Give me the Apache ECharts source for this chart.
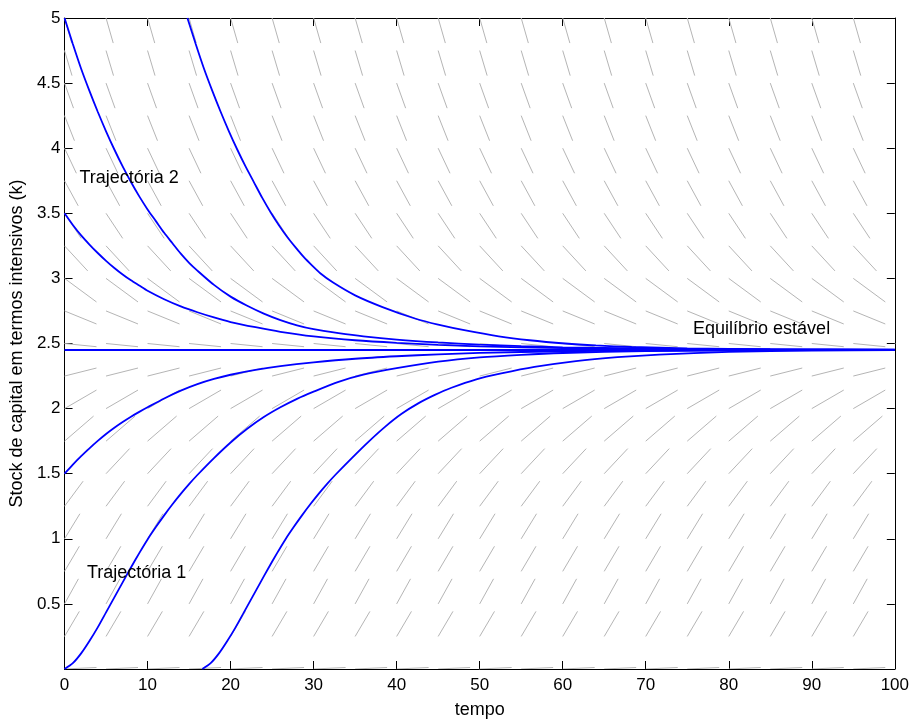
<!DOCTYPE html>
<html>
<head>
<meta charset="utf-8">
<script src="https://cdn.jsdelivr.net/npm/echarts@6/dist/echarts.min.js"></script>
<style>
html,body{margin:0;padding:0;background:#fff;}
#chart{width:912px;height:724px;}
</style>
</head>
<body>
<div id="chart"></div>
<script>
// ---- axis ticks ----
const xTicks = [0,10,20,30,40,50,60,70,80,90,100];
const yTicks = [0.5,1,1.5,2,2.5,3,3.5,4,4.5,5];

// ---- direction field ----
const fieldT = [0,5,10,15,20,25,30,35,40,45,50,55,60,65,70,75,80,85,90,95];
const fieldK = [0,0.25,0.5,0.75,1,1.25,1.5,1.75,2,2.25,2.5,2.75,3,3.25,3.5,3.75,4,4.25,4.5,4.75,5];
const fieldSlope = [0.003,0.108,0.115,0.108,0.104,0.086,0.068,0.055,0.037,0.016,-0.0064,-0.026,-0.047,-0.069,-0.096,-0.117,-0.135,-0.161,-0.178,-0.214,-0.223];

// ---- trajectories [tempo, k] ----
const traj1 = [[0,5.00],[1,4.80],[2,4.61],[3,4.44],[4,4.28],[5,4.13],[6,3.99],[7,3.86],[8,3.74],[9,3.63],[10,3.53],[11,3.44],[12,3.35],[13,3.27],[14,3.19],[15,3.12],[16,3.06],[18,2.95],[20,2.86],[22,2.79],[24,2.73],[26,2.68],[28,2.64],[30,2.61],[33,2.58],[36,2.555],[40,2.53],[45,2.508],[50,2.492],[55,2.48],[60,2.471],[70,2.461],[80,2.456],[90,2.453],[100,2.452]];
const traj2 = [[14.8,5.00],[15.8,4.80],[16.8,4.61],[17.8,4.44],[18.8,4.28],[19.8,4.13],[20.8,3.99],[21.8,3.86],[22.8,3.74],[23.8,3.62],[24.8,3.51],[25.8,3.41],[26.8,3.32],[27.8,3.24],[28.8,3.165],[29.8,3.10],[30.8,3.04],[32.3,2.97],[35,2.87],[38.3,2.78],[42.3,2.69],[45,2.645],[48.3,2.60],[52.3,2.555],[56,2.525],[60.3,2.50],[64,2.485],[68.3,2.473],[75,2.463],[85,2.456],[100,2.452]];
const traj3 = [[0,3.50],[1,3.41],[2,3.33],[3,3.26],[4,3.195],[5,3.135],[6,3.08],[7,3.03],[8,2.985],[9,2.945],[10,2.905],[12,2.84],[14,2.785],[16,2.74],[18,2.70],[20,2.665],[23,2.625],[26,2.59],[30,2.555],[35,2.525],[40,2.505],[45,2.49],[50,2.478],[60,2.465],[70,2.458],[85,2.453],[100,2.451]];
const trajEq = [[0,2.45],[100,2.45]];
const traj5 = [[0,1.50],[1,1.57],[2,1.635],[3,1.695],[4,1.752],[5,1.805],[6,1.853],[7,1.897],[8,1.938],[9,1.975],[10,2.01],[12,2.078],[14,2.138],[16,2.188],[18,2.228],[20,2.26],[23,2.297],[26,2.326],[30,2.355],[35,2.383],[40,2.402],[45,2.417],[50,2.428],[60,2.44],[70,2.446],[85,2.449],[100,2.45]];
const traj6 = [[0,0],[1,0.045],[2,0.12],[3,0.215],[4,0.32],[5,0.435],[6,0.55],[7,0.665],[8,0.78],[9,0.89],[10,0.995],[11,1.09],[12,1.18],[13,1.265],[14,1.345],[15,1.42],[16,1.49],[18,1.62],[20,1.74],[22,1.845],[24,1.935],[26,2.01],[28,2.075],[30,2.13],[33,2.205],[36,2.26],[40,2.31],[45,2.36],[50,2.393],[55,2.413],[60,2.427],[70,2.442],[85,2.449],[100,2.45]];
const traj7 = [[16.6,0],[17.6,0.045],[18.6,0.12],[19.6,0.215],[20.6,0.32],[21.6,0.435],[22.6,0.55],[23.6,0.665],[24.6,0.78],[25.6,0.89],[26.6,0.995],[27.6,1.09],[28.6,1.18],[29.6,1.265],[30.6,1.345],[31.6,1.42],[32.6,1.49],[34.6,1.62],[36.6,1.745],[38.6,1.86],[40.6,1.96],[42.6,2.04],[44.6,2.105],[46.6,2.16],[49.6,2.225],[52.6,2.27],[56.6,2.32],[61.6,2.365],[66.6,2.395],[71.6,2.415],[80,2.435],[90,2.445],[100,2.449]];
const trajectories = [traj1, traj2, traj3, trajEq, traj5, traj6, traj7];

// ---- annotations ----
const annotText = ['Trajectória 2','Trajectória 1','Equilíbrio estável'];
const annotT = [1.8, 2.7, 75.7];
const annotK = [3.77, 0.74, 2.61];

const FONT = 'Liberation Sans, Arial, Helvetica, sans-serif';
const FS_TICK = 17;
const FS_TEXT = 18;

const fieldData = [];
fieldK.forEach((k, i) => fieldT.forEach(t => fieldData.push([t, k, fieldSlope[i]])));

const annotData = annotText.map((s, i) => [annotT[i], annotK[i], s]);

const chart = echarts.init(document.getElementById('chart'), null, {renderer: 'canvas'});

const axisCommon = {
  type: 'value',
  axisLine: {show: true, onZero: false, lineStyle: {color: '#000', width: 1}},
  axisTick: {show: true, inside: true, length: 8, lineStyle: {color: '#000', width: 1}},
  splitLine: {show: false},
  axisLabel: {color: '#000', fontSize: FS_TICK, fontFamily: FONT}
};

const series = [];
series.push({
  type: 'custom',
  name: 'field',
  data: fieldData,
  clip: true,
  silent: true,
  z: 1,
  renderItem: function (params, api) {
    const t = api.value(0), k = api.value(1), f = api.value(2);
    const W = 0.77 * 5, H = 0.77 * 0.25;
    let d = W;
    if (Math.abs(f) * W > H) d = H / Math.abs(f);
    const p0 = api.coord([t, k]);
    const p1 = api.coord([t + d, k + f * d]);
    return {
      type: 'line',
      shape: {x1: p0[0], y1: p0[1], x2: p1[0], y2: p1[1]},
      style: {stroke: '#b5b5b5', lineWidth: 1}
    };
  }
});
trajectories.forEach((tr, i) => {
  series.push({
    type: 'line',
    name: 'traj' + i,
    data: tr,
    showSymbol: false,
    smooth: 0.25,
    clip: true,
    silent: true,
    z: 3,
    lineStyle: {color: '#0000ff', width: 1.8}
  });
});
series.push({
  type: 'custom',
  name: 'annot',
  data: annotData,
  silent: true,
  z: 5,
  renderItem: function (params, api) {
    const p = api.coord([api.value(0), api.value(1)]);
    return {
      type: 'text',
      style: {
        x: p[0], y: p[1],
        text: annotText[params.dataIndex],
        fill: '#000',
        font: FS_TEXT + 'px ' + FONT,
        textAlign: 'left',
        textVerticalAlign: 'middle'
      }
    };
  }
});

chart.setOption({
  animation: false,
  backgroundColor: '#fff',
  grid: {left: 63, right: 14, top: 18, bottom: 46, containLabel: false},
  xAxis: [
    Object.assign({}, axisCommon, {
      position: 'bottom', min: xTicks[0], max: xTicks[xTicks.length - 1], interval: 10,
      name: 'tempo', nameLocation: 'middle', nameGap: 32,
      nameTextStyle: {color: '#000', fontSize: FS_TEXT, fontFamily: FONT},
      axisLabel: Object.assign({}, axisCommon.axisLabel, {margin: 8})
    }),
    Object.assign({}, axisCommon, {
      position: 'top', min: xTicks[0], max: xTicks[xTicks.length - 1], interval: 10,
      axisLabel: {show: false}
    })
  ],
  yAxis: [
    Object.assign({}, axisCommon, {
      position: 'left', min: 0, max: yTicks[yTicks.length - 1], interval: 0.5,
      name: 'Stock de capital em termos intensivos (k)', nameLocation: 'middle', nameGap: 29,
      nameTextStyle: {color: '#000', fontSize: FS_TEXT, fontFamily: FONT},
      axisLabel: Object.assign({}, axisCommon.axisLabel, {
        margin: 4,
        formatter: v => (yTicks.indexOf(v) >= 0 ? String(v) : '')
      })
    }),
    Object.assign({}, axisCommon, {
      position: 'right', min: 0, max: yTicks[yTicks.length - 1], interval: 0.5,
      axisLabel: {show: false}
    })
  ],
  series: series
});
</script>
</body>
</html>
